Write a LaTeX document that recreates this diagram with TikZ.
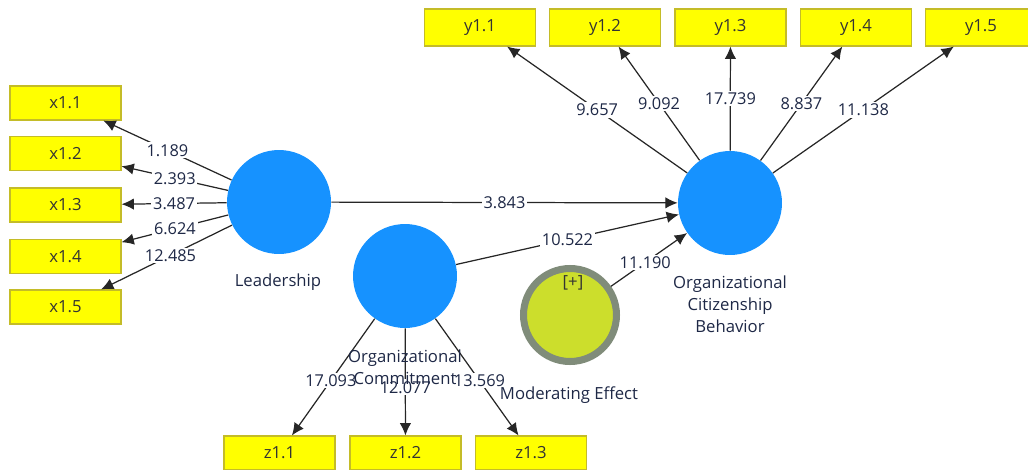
\documentclass[tikz,border=0pt]{standalone}
\usepackage{fontspec}
\setmainfont{Open Sans}
\usetikzlibrary{arrows.meta}
\definecolor{lvblue}   {RGB}{22,146,255}
\definecolor{mvyellow} {RGB}{255,255,0}
\definecolor{mvedge}   {RGB}{196,188,40}
\definecolor{modgreen} {RGB}{204,222,44}
\definecolor{modring}  {RGB}{128,140,122}
\definecolor{ltext}    {RGB}{30,40,70}
\tikzset{
    latent/.style={circle, fill=lvblue, minimum size=2.08cm, inner sep=0pt},
    moderator/.style={circle, fill=modgreen, draw=modring, line width=4pt,
             minimum size=1.86cm, inner sep=0pt},
    indicator/.style={rectangle, fill=mvyellow, draw=mvedge, line width=0.6pt,
             minimum width=2.22cm, minimum height=0.68cm, inner sep=0pt,
             font=\fontsize{9.5}{11}\selectfont, text=black!80},
    loading/.style={draw=black!85, line width=0.7pt,
             -{Latex[length=7pt,width=6.5pt]}},
    tval/.style={fill=white, inner sep=1pt, pos=0.5,
             font=\fontsize{9.3}{11}\selectfont, text=ltext},
    lvname/.style={align=center, text=ltext,
             font=\fontsize{9.5}{12.5}\selectfont}
  }
\begin{document}
\begin{tikzpicture}[x=0.02cm, y=-0.02cm]
 \useasboundingbox (0,0) rectangle (1028,470);
 %Latent variables
     \node[latent] (lead) at (279,202) {};
     \node[latent] (ocom) at (405,276) {};
     \node[latent] (ocb)  at (730,203) {};
     \node[moderator] (mod) at (570,315) {};
 %Indicators of Leadership
     \node[indicator] (x11) at (65.5,103) {x1.1};
     \node[indicator] (x12) at (65.5,153.5) {x1.2};
     \node[indicator] (x13) at (65.5,205) {x1.3};
     \node[indicator] (x14) at (65.5,256.5) {x1.4};
     \node[indicator] (x15) at (65.5,307) {x1.5};
 %Indicators of OCB
     \node[indicator, minimum height=0.74cm] (y11) at (480,27.5) {y1.1};
     \node[indicator, minimum height=0.74cm] (y12) at (605,27.5) {y1.2};
     \node[indicator, minimum height=0.74cm] (y13) at (730.5,27.5) {y1.3};
     \node[indicator, minimum height=0.74cm] (y14) at (856,27.5) {y1.4};
     \node[indicator, minimum height=0.74cm] (y15) at (981,27.5) {y1.5};
 %Indicators of Organizational Commitment
     \node[indicator] (z11) at (279.5,453) {z1.1};
     \node[indicator] (z12) at (405.5,453) {z1.2};
     \node[indicator] (z13) at (531,453) {z1.3};
 %Outer loadings
     \draw[loading] (lead) -- node[tval] {1.189} (x11);
     \draw[loading] (lead) -- node[tval] {2.393} (x12);
     \draw[loading] (lead) -- node[tval] {3.487} (x13);
     \draw[loading] (lead) -- node[tval] {6.624} (x14);
     \draw[loading] (lead) -- node[tval, pos=0.47] {12.485} (x15);
     \draw[loading] (ocb) -- node[tval] {9.657} (y11);
     \draw[loading] (ocb) -- node[tval] {9.092} (y12);
     \draw[loading] (ocb) -- node[tval] {17.739} (y13);
     \draw[loading] (ocb) -- node[tval] {8.837} (y14);
     \draw[loading] (ocb) -- node[tval] {11.138} (y15);
     \draw[loading] (ocom) -- node[tval, pos=0.53] {17.093} (z11);
     \draw[loading] (ocom) -- node[tval, pos=0.55] {12.077} (z12);
     \draw[loading] (ocom) -- node[tval, pos=0.53] {13.569} (z13);
 %Paths
     \draw[loading] (lead) -- node[tval] {3.843} (ocb);
     \draw[loading] (ocom) -- node[tval] {10.522} (ocb);
     \draw[loading] (mod) -- node[tval, pos=0.45] {11.190} (ocb);
 %Names
     \node[lvname] (leadname) at (278,282) {Leadership};
     \node[lvname] (ocomname) at (405,367.5) {Organizational\\Commitment};
     \node[lvname] (ocbname)  at (730,304) {Organizational\\Citizenship\\Behavior};
     \node[lvname] (modname)  at (569,395) {Moderating Effect};
     \node[lvname, text=black!80] (modplus) at (573,283) {[+]};
\end{tikzpicture}
\end{document}
